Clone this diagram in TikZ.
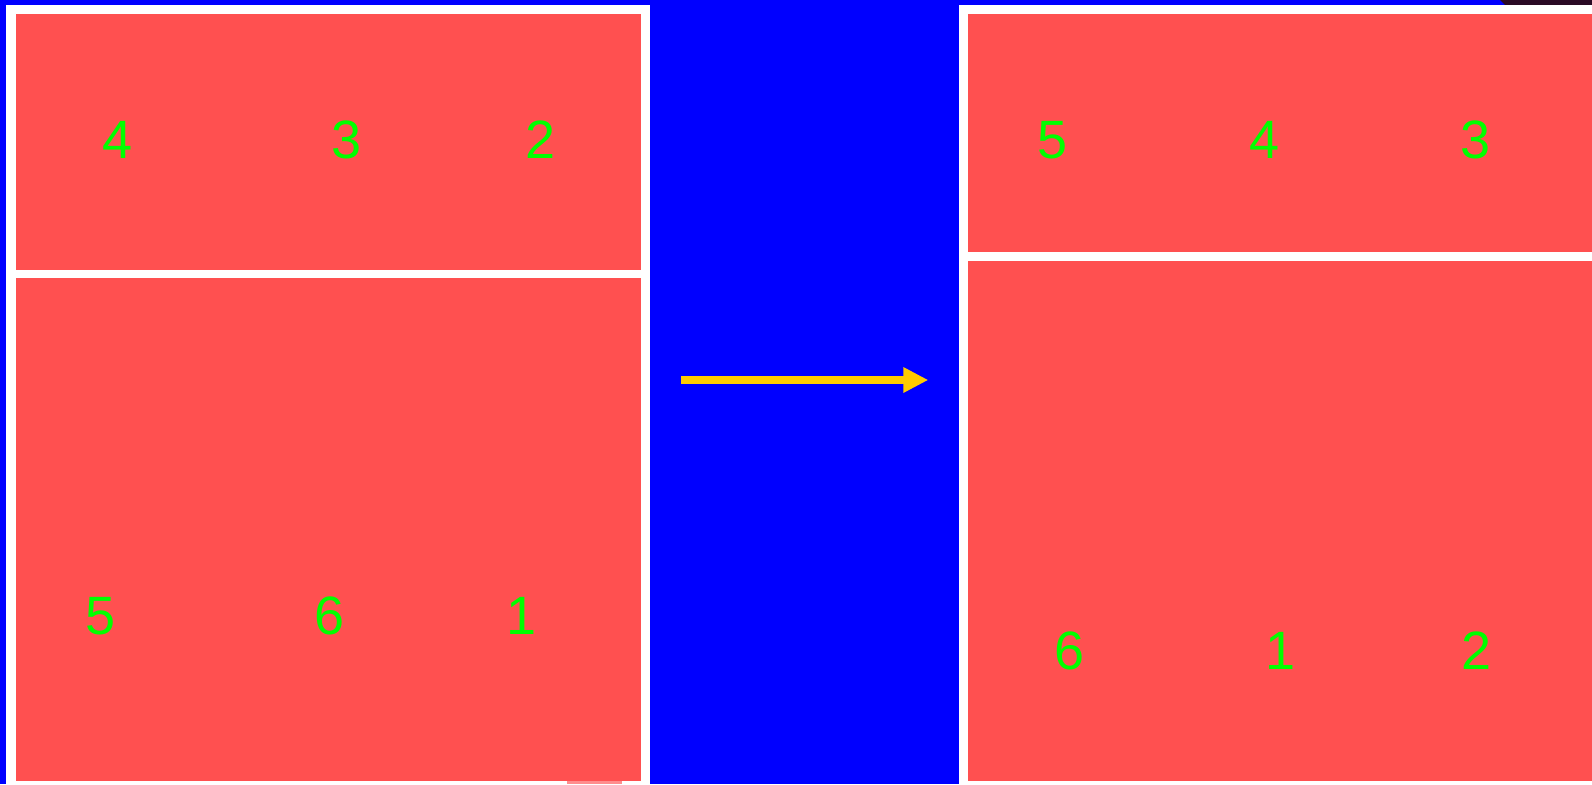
\documentclass[tikz,border=0pt]{standalone}
\usepackage{fontspec}
\setmainfont{Liberation Sans}
\usepackage{xcolor}
\usetikzlibrary{arrows.meta}
\definecolor{panelred}{HTML}{FF5050}
\definecolor{digitgreen}{HTML}{00FF00}
\definecolor{arrowgold}{HTML}{FFCC00}
\definecolor{darkcorner}{HTML}{2A0A24}
\tikzset{
frame/.style={fill=white},
block/.style={fill=panelred},
digit/.style={text=digitgreen, font=\fontsize{54}{60}\selectfont, inner sep=0pt},
arrow/.style={-{Triangle[length=25pt, width=24pt]}, line width=8.7pt, draw=arrowgold}
}

\begin{document}
\begin{tikzpicture}[x=1pt,y=-1pt]
\fill[blue] (0,0) rectangle (1592,784);
\useasboundingbox (0,0) rectangle (1592,784);
\fill[darkcorner] (1500,0) -- (1592,0) -- (1592,5) -- (1505,5) -- cycle;
% before
\fill[frame] (6,5) rectangle (650,784);
\fill[block] (15.5,14) rectangle (641,270);
\fill[block] (15.5,278.3) rectangle (641,780.7);
\fill[panelred!65!white] (567,780.7) rectangle (622,784);
% after
\fill[frame] (959,5) rectangle (1592,784);
\fill[block] (967.7,14) rectangle (1592,252);
\fill[block] (967.7,261) rectangle (1592,780.7);
\foreach \name/\n/\x/\y in {la/4/117.5/140,lb/3/346.5/140,lc/2/541/140,
ld/5/101/616,le/6/330/616,lf/1/522/616,
ra/5/1053/140,rb/4/1264/140,rc/3/1475/140,
rd/6/1070/651,re/1/1280.5/651,rf/2/1476/651}
\node[digit](\name) at (\x,\y){\n};
\coordinate (from) at (681,380);
\coordinate (to) at (928.3,380);
\draw[arrow](from)--(to);
\end{tikzpicture}
\end{document}
